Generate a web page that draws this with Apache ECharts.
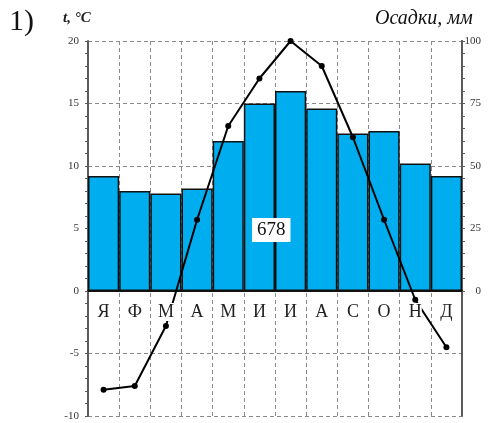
<!DOCTYPE html>
<html>
<head>
<meta charset="utf-8">
<script src="https://cdn.jsdelivr.net/npm/echarts@6/dist/echarts.min.js"></script>
<style>
  html, body { margin: 0; padding: 0; background: #fff; }
  #chart { width: 493px; height: 423px; }
</style>
</head>
<body>
<div id="chart"></div>
<script>
// climate diagram: temperature line + precipitation bars
var months = ['Я', 'Ф', 'М', 'А', 'М', 'И', 'И', 'А', 'С', 'О', 'Н', 'Д']
var temperature = [-7.9, -7.6, -2.8, 5.7, 13.2, 17.0, 20.0, 18.0, 12.3, 5.7, -0.7, -4.5]
var precipitation = [46, 40, 39, 41, 60, 75, 80, 73, 63, 64, 51, 46]
var totalLabel = '678'

var serif = 'Liberation Serif'
var axisGray = '#5a5a5a'

var chart = echarts.init(document.getElementById('chart'), null, {renderer: 'canvas'})

var option = {
    animation: false,
    textStyle: {fontFamily: serif},
    grid: [
        {left: 88, right: 31, top: 41, height: 375},
        {left: 88, right: 31, top: 41, height: 250}
    ],
    xAxis: [
        {
            // grid lines + zero line
            gridIndex: 0, type: 'category', data: months,
            axisLine: {onZero: true, lineStyle: {color: '#111', width: 2}},
            axisTick: {show: false},
            axisLabel: {show: false},
            splitLine: {show: true, interval: 0, lineStyle: {color: '#8a8a8a', type: [4, 3], width: 1}}
        },
        {
            // month letters, drawn over the line
            gridIndex: 0, type: 'category', data: months, position: 'bottom', offset: -125, z: 5,
            axisLine: {show: false, onZero: false},
            axisTick: {show: false},
            splitLine: {show: false},
            axisLabel: {
                interval: 0, margin: 12, fontSize: 18, color: '#222', fontFamily: serif,
                backgroundColor: '#fff', padding: [0, 0, 0, 0]
            }
        },
        {gridIndex: 1, type: 'category', data: months, show: false}
    ],
    yAxis: [
        {
            gridIndex: 0, type: 'value', min: -10, max: 20, interval: 5, position: 'left',
            axisLine: {show: true, lineStyle: {color: axisGray, width: 2}},
            axisTick: {show: true, length: 3, lineStyle: {color: axisGray}},
            minorTick: {show: true, splitNumber: 5, length: 3, lineStyle: {color: axisGray}},
            axisLabel: {fontSize: 11, color: '#333', margin: 9},
            splitLine: {show: true, lineStyle: {color: '#8a8a8a', type: [4, 3], width: 1}}
        },
        {
            gridIndex: 0, type: 'value', min: -10, max: 20, interval: 5, position: 'right',
            axisLine: {show: true, lineStyle: {color: axisGray, width: 2}},
            axisTick: {show: false}, axisLabel: {show: false}, splitLine: {show: false}
        },
        {
            gridIndex: 1, type: 'value', min: 0, max: 100, interval: 25, position: 'right',
            axisLine: {show: true, lineStyle: {color: axisGray, width: 2}},
            axisTick: {show: true, length: 3, lineStyle: {color: axisGray}},
            minorTick: {show: true, splitNumber: 5, length: 3, lineStyle: {color: axisGray}},
            axisLabel: {fontSize: 11, color: '#333', align: 'right', margin: 19},
            splitLine: {show: false}
        }
    ],
    series: [
        {
            type: 'bar', xAxisIndex: 2, yAxisIndex: 2, data: precipitation,
            barCategoryGap: 0, z: 2,
            itemStyle: {color: '#00aeef', borderColor: '#111', borderWidth: 1.5}
        },
        {
            type: 'line', xAxisIndex: 0, yAxisIndex: 0, data: temperature, z: 3,
            symbol: 'circle', symbolSize: 6,
            lineStyle: {color: '#000', width: 2},
            itemStyle: {color: '#000'}
        }
    ],
    graphic: [
        {type: 'text', left: 9, top: 7, style: {text: '1)', font: '30px "Liberation Serif"', fill: '#111'}},
        {type: 'text', left: 63, top: 11, style: {text: 't, °C', font: 'italic bold 15px "Liberation Serif"', fill: '#222'}},
        {type: 'text', left: 375, top: 9, style: {text: 'Осадки, мм', font: 'italic 20px "Liberation Serif"', fill: '#111'}},
        {
            type: 'text', left: 252, top: 218, z: 10,
            style: {
                text: totalLabel, font: '19px "Liberation Serif"', fill: '#111',
                backgroundColor: '#fff', padding: [3, 5, 2, 5]
            }
        }
    ]
}

chart.setOption(option)
</script>
</body>
</html>
